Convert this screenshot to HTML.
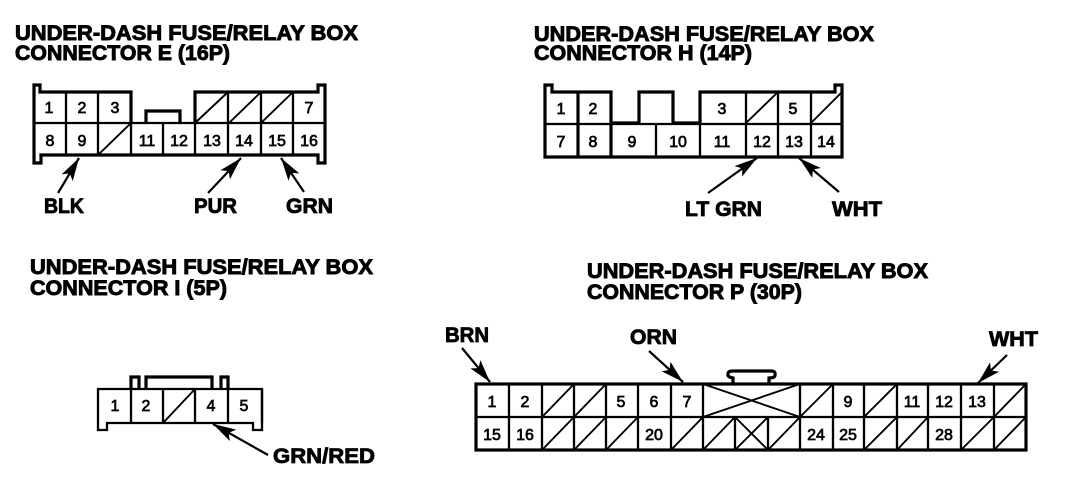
<!DOCTYPE html>
<html><head><meta charset="utf-8"><style>
html,body{margin:0;padding:0;background:#fff;width:1072px;height:488px;overflow:hidden}
svg{display:block}
.h{font:bold 21px "Liberation Sans",sans-serif;stroke:#000;stroke-width:.9}
.l{font:bold 21px "Liberation Sans",sans-serif;stroke:#000;stroke-width:.8}
.n{font:16px "Liberation Sans",sans-serif;text-anchor:middle;stroke:#000;stroke-width:.7}
.t{fill:none;stroke:#000;stroke-width:3.2}
.m{fill:none;stroke:#000;stroke-width:2.3}
.s{fill:none;stroke:#000;stroke-width:1.9}
.a{stroke:#000;stroke-width:2.2;marker-end:url(#ah)}
</style></head><body>
<svg width="1072" height="488" viewBox="0 0 1072 488" xmlns="http://www.w3.org/2000/svg">
<defs><marker id="ah" markerUnits="userSpaceOnUse" markerWidth="28" markerHeight="18" refX="26" refY="9" orient="auto"><path d="M26 9L3 2.5L8 9L3 15.5Z" fill="#000"/></marker></defs>

<!-- Headers -->
<text class="h" x="15" y="40" textLength="343" lengthAdjust="spacingAndGlyphs">UNDER-DASH FUSE/RELAY BOX</text>
<text class="h" x="15" y="60" textLength="215" lengthAdjust="spacingAndGlyphs">CONNECTOR E (16P)</text>
<text class="h" x="534" y="41" textLength="340" lengthAdjust="spacingAndGlyphs">UNDER-DASH FUSE/RELAY BOX</text>
<text class="h" x="534" y="60" textLength="218" lengthAdjust="spacingAndGlyphs">CONNECTOR H (14P)</text>
<text class="h" x="30" y="274" textLength="343" lengthAdjust="spacingAndGlyphs">UNDER-DASH FUSE/RELAY BOX</text>
<text class="h" x="30" y="295" textLength="197" lengthAdjust="spacingAndGlyphs">CONNECTOR I (5P)</text>
<text class="h" x="587" y="278" textLength="341" lengthAdjust="spacingAndGlyphs">UNDER-DASH FUSE/RELAY BOX</text>
<text class="h" x="587" y="299" textLength="215" lengthAdjust="spacingAndGlyphs">CONNECTOR P (30P)</text>

<!-- Connector E -->
<path class="t" d="M131 123V92H40V85H34V163H41V155H318V163H325V85H318V92H195V123"/>
<path class="m" d="M34 123H325M66 92V155M98 92V155M131 123V155M163 123V155M195 123V155M228 92V155M261 92V155M293 92V155"/>
<path class="t" d="M146 123V111H180V123"/>
<path class="s" d="M98 155L131 123M195 123L228 92M229 123L261 92M261 123L293 92"/>
<text class="n" x="49" y="113">1</text><text class="n" x="82" y="113">2</text><text class="n" x="115" y="113">3</text><text class="n" x="309" y="113">7</text>
<text class="n" x="50" y="146">8</text><text class="n" x="82" y="146">9</text><text class="n" x="147" y="146">11</text><text class="n" x="179" y="146">12</text><text class="n" x="212" y="146">13</text><text class="n" x="244" y="146">14</text><text class="n" x="277" y="146">15</text><text class="n" x="309" y="146">16</text>
<line class="a" x1="58" y1="193" x2="79" y2="158"/>
<line class="a" x1="208" y1="193" x2="241" y2="158"/>
<line class="a" x1="304" y1="192" x2="281" y2="158"/>
<text class="l" x="44" y="213" textLength="40" lengthAdjust="spacingAndGlyphs">BLK</text>
<text class="l" x="194" y="213" textLength="43" lengthAdjust="spacingAndGlyphs">PUR</text>
<text class="l" x="286" y="213" textLength="47" lengthAdjust="spacingAndGlyphs">GRN</text>

<!-- Connector H -->
<path class="t" d="M611 123V92H552V85H545V157H842V85H835V92H700V123H673V92H639V123H611"/>
<path class="m" d="M545 124H842"/>
<path class="t" d="M578 92V157M611 123V157"/>
<path class="m" d="M656 123V157M700 123V157M746 92V157M778 92V157M811 92V157"/>
<path class="s" d="M746 123L778 92M811 123L842 92"/>
<text class="n" x="561" y="114">1</text><text class="n" x="593" y="114">2</text><text class="n" x="722" y="114">3</text><text class="n" x="793" y="114">5</text>
<text class="n" x="561" y="147">7</text><text class="n" x="593" y="147">8</text><text class="n" x="632" y="147">9</text><text class="n" x="678" y="147">10</text><text class="n" x="722" y="147">11</text><text class="n" x="762" y="147">12</text><text class="n" x="794" y="147">13</text><text class="n" x="826" y="147">14</text>
<line class="a" x1="708" y1="193" x2="757" y2="158"/>
<line class="a" x1="839" y1="192" x2="799" y2="158"/>
<text class="l" x="685" y="216" textLength="77" lengthAdjust="spacingAndGlyphs">LT GRN</text>
<text class="l" x="832" y="216" textLength="50" lengthAdjust="spacingAndGlyphs">WHT</text>

<!-- Connector I -->
<path class="m" d="M98 430V389H262V430H253V423H107V430Z" fill="none"/>
<path class="m" d="M131 389V423M163 389V423M195 389V423M228 389V423M262 389V423"/>
<path class="t" d="M131 389V377H139V389M146 389V377H212V389M221 389V377H228V389"/>
<path class="s" d="M163 423L195 389"/>
<text class="n" x="115" y="411">1</text><text class="n" x="146" y="411">2</text><text class="n" x="211" y="411">4</text><text class="n" x="244" y="411">5</text>
<line class="a" x1="268" y1="455" x2="213" y2="424"/>
<text class="l" x="273" y="463" textLength="102" lengthAdjust="spacingAndGlyphs">GRN/RED</text>

<!-- Connector P -->
<rect class="t" x="476" y="384" width="550" height="66"/>
<path class="m" d="M476 417H1026M509 384V450M542 384V450M574 384V450M606 384V450M638 384V450M671 384V450M703 384V450M800 384V450M833 384V450M864 384V450M897 384V450M928 384V450M961 384V450M994 384V450M735 417V450M768 417V450"/>
<path class="t" d="M733 383V378Q727 377 728 374Q728 371 733 371H771Q776 371 775 375Q775 378 769 378V383"/>
<path class="s" d="M703 384L800 417M703 417L800 384M735 417L768 450M735 450L768 417"/>
<path class="s" d="M542 417L574 384M574 417L606 384M800 417L833 384M864 417L897 384M994 417L1026 384M542 450L574 417M574 450L606 417M606 450L638 417M671 450L703 417M703 450L735 417M768 450L800 417M864 450L897 417M897 450L928 417M961 450L994 417M994 450L1026 417"/>
<text class="n" x="492" y="407">1</text><text class="n" x="525" y="407">2</text><text class="n" x="621" y="407">5</text><text class="n" x="654" y="407">6</text><text class="n" x="687" y="407">7</text><text class="n" x="848" y="407">9</text><text class="n" x="912" y="407">11</text><text class="n" x="944" y="407">12</text><text class="n" x="977" y="407">13</text>
<text class="n" x="492" y="440">15</text><text class="n" x="525" y="440">16</text><text class="n" x="654" y="440">20</text><text class="n" x="816" y="440">24</text><text class="n" x="848" y="440">25</text><text class="n" x="944" y="440">28</text>
<line class="a" x1="462" y1="348" x2="490" y2="382"/>
<line class="a" x1="649" y1="351" x2="683" y2="382"/>
<line class="a" x1="1007" y1="355" x2="978" y2="383"/>
<text class="l" x="445" y="342" textLength="44" lengthAdjust="spacingAndGlyphs">BRN</text>
<text class="l" x="630" y="344" textLength="47" lengthAdjust="spacingAndGlyphs">ORN</text>
<text class="l" x="989" y="346" textLength="49" lengthAdjust="spacingAndGlyphs">WHT</text>
</svg>
</body></html>
